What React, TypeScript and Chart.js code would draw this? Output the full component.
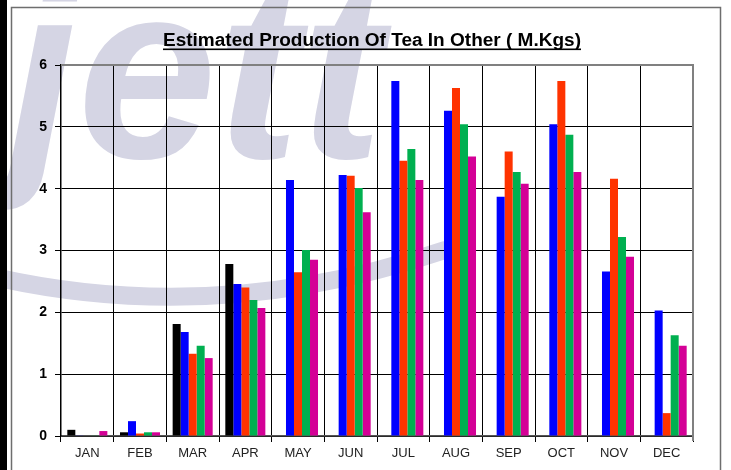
import React, { useEffect, useRef } from "react";
import { Chart, registerables } from "chart.js";

Chart.register(...registerables);

const TITLE = "Estimated Production Of Tea In Other ( M.Kgs)";
const MONTHS = ["JAN", "FEB", "MAR", "APR", "MAY", "JUN", "JUL", "AUG", "SEP", "OCT", "NOV", "DEC"];
const SERIES_BLACK = [0.1, 0.06, 1.81, 2.78, null, null, null, null, null, null, null, null];
const SERIES_BLUE = [0.01, 0.24, 1.68, 2.46, 4.14, 4.22, 5.74, 5.26, 3.87, 5.04, 2.66, 2.03];
const SERIES_RED = [0, 0.04, 1.33, 2.4, 2.65, 4.21, 4.45, 5.63, 4.6, 5.74, 4.16, 0.37];
const SERIES_GREEN = [0.01, 0.06, 1.46, 2.2, 3.01, 4.01, 4.64, 5.04, 4.27, 4.87, 3.22, 1.63];
const SERIES_MAGENTA = [0.08, 0.06, 1.26, 2.07, 2.85, 3.62, 4.14, 4.52, 4.08, 4.27, 2.9, 1.46];
const Y_MIN = 0;
const Y_MAX = 6;
const Y_STEP = 1;

const W = 731;
const H = 470;

const backgroundPlugin = {
  id: "bgWatermark",
  beforeDraw(chart: any) {
    const ctx = chart.ctx as CanvasRenderingContext2D;
    ctx.save();
    ctx.fillStyle = "#ffffff";
    ctx.fillRect(0, 0, W, H);
    // watermark
    ctx.fillStyle = "#d5d5e4";
    ctx.save();
    ctx.translate(8, 158);
    ctx.font = "italic bold 250px 'Liberation Sans', Arial";
    ctx.fillText("jett", 0, 0);
    ctx.restore();
    ctx.strokeStyle = "#d5d5e4";
    ctx.lineWidth = 18;
    ctx.lineCap = "round";
    ctx.beginPath();
    ctx.moveTo(-10, 276);
    ctx.quadraticCurveTo(215, 328, 445, 250);
    ctx.stroke();
    // frame
    ctx.fillStyle = "#000000";
    ctx.fillRect(0, 0, 7, H);
    ctx.strokeStyle = "#6e6e6e";
    ctx.lineWidth = 1.5;
    ctx.lineCap = "butt";
    ctx.beginPath();
    ctx.moveTo(11.5, H);
    ctx.lineTo(11.5, 7.5);
    ctx.lineTo(720.5, 7.5);
    ctx.lineTo(720.5, H);
    ctx.stroke();
    ctx.restore();
  },
  afterDatasetsDraw(chart: any) {
    const ctx = chart.ctx as CanvasRenderingContext2D;
    const a = chart.chartArea;
    ctx.save();
    ctx.strokeStyle = "#808080";
    ctx.lineWidth = 2;
    ctx.beginPath();
    ctx.moveTo(a.left, a.top);
    ctx.lineTo(a.right, a.top);
    ctx.lineTo(a.right, a.bottom + 5);
    ctx.stroke();
    // title
    ctx.fillStyle = "#000000";
    ctx.font = "bold 18px 'Liberation Sans', Arial";
    const tw = ctx.measureText(TITLE).width;
    const target = 418;
    const cx = 372;
    ctx.save();
    ctx.translate(cx, 46);
    ctx.scale(target / tw, 1);
    ctx.textAlign = "center";
    ctx.textBaseline = "alphabetic";
    ctx.fillText(TITLE, 0, 0);
    ctx.restore();
    ctx.fillRect(cx - target / 2, 48.5, target, 1.6);
    ctx.restore();
  },
};

export default function App() {
  const ref = useRef<HTMLCanvasElement | null>(null);
  useEffect(() => {
    if (!ref.current) return;
    Chart.defaults.font.family = "'Liberation Sans', Arial, sans-serif";
    const chart = new Chart(ref.current, {
      type: "bar",
      data: {
        labels: MONTHS,
        datasets: [
          { label: "s1", data: SERIES_BLACK as any, backgroundColor: "#000000" },
          { label: "s2", data: SERIES_BLUE, backgroundColor: "#0000ff" },
          { label: "s3", data: SERIES_RED, backgroundColor: "#ff3300" },
          { label: "s4", data: SERIES_GREEN, backgroundColor: "#00b050" },
          { label: "s5", data: SERIES_MAGENTA, backgroundColor: "#d40096" },
        ],
      },
      options: {
        responsive: false,
        animation: false,
        devicePixelRatio: 1,
        layout: { padding: { left: 0, right: 38, top: 65, bottom: 0 } },
        datasets: { bar: { categoryPercentage: 0.76, barPercentage: 1, borderWidth: 0 } },
        plugins: { legend: { display: false }, title: { display: false }, tooltip: { enabled: false } },
        scales: {
          x: {
            grid: { offset: true, color: "#000000", lineWidth: 1, tickLength: 6, drawTicks: true },
            border: { color: "#555555", width: 1.5 },
            ticks: { color: "#222222", font: { size: 13 }, padding: 4 },
            afterFit(scale: any) { scale.height = 34; },
          },
          y: {
            min: Y_MIN,
            max: Y_MAX,
            ticks: { stepSize: Y_STEP, color: "#000000", font: { size: 14, weight: "bold" }, padding: 8 },
            grid: { color: "#000000", lineWidth: 1, tickLength: 6 },
            border: { color: "#000000", width: 1.5 },
            afterFit(scale: any) { scale.width = 61; },
          },
        },
      },
      plugins: [backgroundPlugin],
    });
    return () => chart.destroy();
  }, []);
  return (
    <canvas
      ref={ref}
      width={W}
      height={H}
      style={{ position: "fixed", left: 0, top: 0, width: W, height: H, display: "block" }}
    />
  );
}
